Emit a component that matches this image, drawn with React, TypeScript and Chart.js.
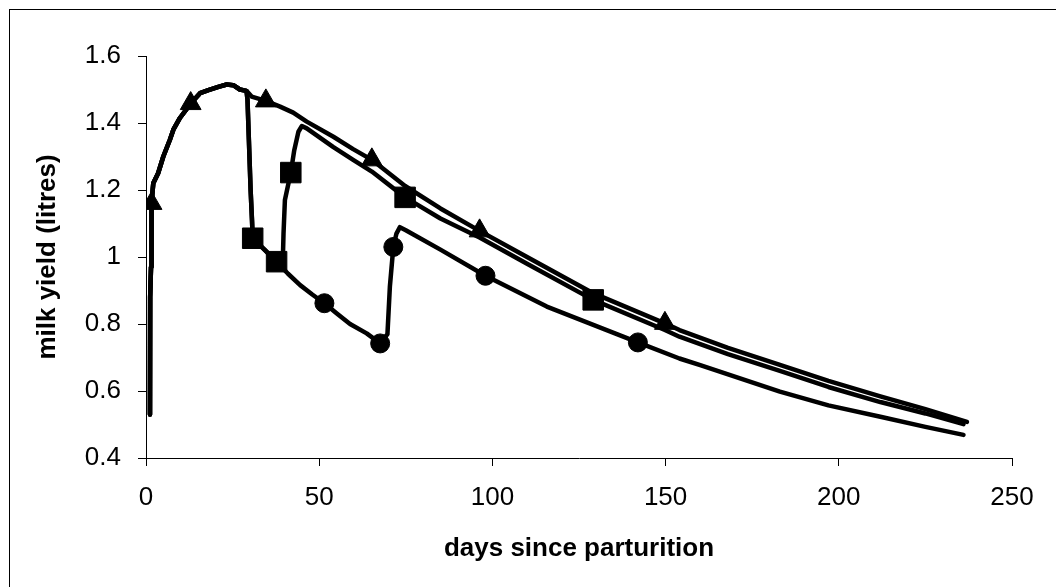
import React, { useEffect, useRef } from 'react';
import { Chart, registerables } from 'chart.js';

Chart.register(...registerables);

const FONT = 'Liberation Sans, Arial, Helvetica, sans-serif';

const xTickValues = [0, 50, 100, 150, 200, 250];
const yTickValues = [0.4, 0.6, 0.8, 1.0, 1.2, 1.4, 1.6];
const yTickLabels = ['0.4', '0.6', '0.8', '1', '1.2', '1.4', '1.6'];

// Control series (triangles)
const controlDays = [1.15, 1.2, 1.45, 1.6, 2.1, 3.5, 5.0, 6.9, 7.9, 9.8, 12.9, 15.6, 18.0, 20.9, 23.3, 25.2, 27.1, 29.0, 30.5, 34.6, 38.7, 42.5, 46.4, 54.1, 59.8, 65.2, 74.8, 85.0, 96.3, 110.0, 129.1, 149.8, 154.0, 168.0, 183.0, 197.0, 212.0, 225.0, 237.0];
const controlYield = [0.53, 0.88, 0.97, 1.16, 1.22, 1.25, 1.30, 1.35, 1.38, 1.415, 1.458, 1.489, 1.498, 1.508, 1.515, 1.513, 1.50, 1.496, 1.479, 1.466, 1.449, 1.431, 1.404, 1.359, 1.322, 1.29, 1.212, 1.145, 1.078, 1.0, 0.892, 0.802, 0.782, 0.729, 0.678, 0.63, 0.584, 0.546, 0.508];
const controlMarkerDays = [1.6, 12.9, 34.6, 65.2, 96.3, 149.8];

// Square series
const squareDays = [1.15, 1.2, 1.45, 1.6, 2.1, 3.5, 5.0, 6.9, 7.9, 9.8, 12.9, 15.6, 18.0, 20.9, 23.3, 25.2, 27.1, 29.0, 29.3, 29.7, 30.2, 30.6, 30.8, 33.9, 37.7, 39.5, 39.7, 40.1, 41.8, 42.8, 44.0, 45.0, 46.4, 54.1, 59.8, 65.2, 74.8, 85.0, 96.3, 110.0, 129.1, 149.8, 154.0, 168.0, 183.0, 197.0, 212.0, 225.0, 236.0];
const squareYield = [0.53, 0.88, 0.97, 1.16, 1.22, 1.25, 1.30, 1.35, 1.38, 1.415, 1.458, 1.489, 1.498, 1.508, 1.515, 1.513, 1.50, 1.496, 1.47, 1.35, 1.2, 1.11, 1.056, 1.025, 0.986, 0.99, 1.07, 1.17, 1.252, 1.319, 1.374, 1.391, 1.384, 1.328, 1.29, 1.255, 1.178, 1.115, 1.058, 0.98, 0.872, 0.782, 0.762, 0.71, 0.66, 0.612, 0.567, 0.533, 0.501];
const squareMarkerDays = [30.8, 37.7, 41.8, 74.8, 129.1];

// Circle series
const circleDays = [1.15, 1.2, 1.45, 1.6, 2.1, 3.5, 5.0, 6.9, 7.9, 9.8, 12.9, 15.6, 18.0, 20.9, 23.3, 25.2, 27.1, 29.0, 29.3, 29.7, 30.2, 30.6, 30.8, 33.9, 37.7, 41.0, 44.5, 48.0, 51.5, 55.0, 58.9, 63.7, 67.6, 69.7, 70.4, 71.4, 72.3, 73.3, 75.0, 85.0, 98.0, 115.7, 142.0, 154.0, 160.0, 183.0, 197.0, 212.0, 225.0, 236.0];
const circleYield = [0.53, 0.88, 0.97, 1.16, 1.22, 1.25, 1.30, 1.35, 1.38, 1.415, 1.458, 1.489, 1.498, 1.508, 1.515, 1.513, 1.50, 1.496, 1.47, 1.35, 1.2, 1.11, 1.056, 1.025, 0.986, 0.95, 0.916, 0.888, 0.862, 0.832, 0.80, 0.772, 0.742, 0.77, 0.911, 1.03, 1.07, 1.089, 1.08, 1.022, 0.944, 0.852, 0.745, 0.697, 0.677, 0.598, 0.557, 0.523, 0.493, 0.469];
const circleMarkerDays = [51.5, 67.6, 71.4, 98.0, 142.0];

function makeSeries(label: string, days: number[], values: number[], markerDays: number[], style: string, radius: number) {
  return {
    label,
    data: days.map((d, i) => ({ x: d, y: values[i] })),
    borderColor: '#000',
    backgroundColor: '#000',
    borderWidth: 4.5,
    borderCapStyle: 'round',
    borderJoinStyle: 'round',
    tension: 0,
    fill: false,
    pointStyle: style,
    pointRadius: days.map((d) => (markerDays.includes(d) ? radius : 0)),
    pointHoverRadius: 0,
    pointBackgroundColor: '#000',
    pointBorderColor: '#000',
    pointBorderWidth: 1,
  };
}

export default function App() {
  const ref = useRef<HTMLCanvasElement | null>(null);

  useEffect(() => {
    if (!ref.current) return;
    const chart = new Chart(ref.current, {
      type: 'line',
      data: {
        datasets: [
          makeSeries('control', controlDays, controlYield, controlMarkerDays, 'triangle', 12),
          makeSeries('square', squareDays, squareYield, squareMarkerDays, 'rect', 14.5),
          makeSeries('circle', circleDays, circleYield, circleMarkerDays, 'circle', 9.5),
        ] as any,
      },
      options: {
        animation: false,
        responsive: false,
        devicePixelRatio: 1,
        layout: { padding: { top: 56, right: 44, left: 0, bottom: 0 } },
        plugins: { legend: { display: false }, tooltip: { enabled: false } },
        events: [],
        scales: {
          x: {
            type: 'linear',
            min: 0,
            max: 250,
            afterBuildTicks: (s: any) => {
              s.ticks = xTickValues.map((v) => ({ value: v }));
            },
            afterFit: (s: any) => {
              s.height = 129;
            },
            ticks: {
              font: { family: FONT, size: 26 },
              color: '#000',
              padding: 16,
              maxRotation: 0,
              autoSkip: false,
              callback: (v: any) => String(v),
            },
            grid: { display: true, drawOnChartArea: false, drawTicks: true, tickLength: 8, color: '#000', lineWidth: 1 },
            border: { display: true, color: '#000', width: 1 },
            title: {
              display: true,
              text: 'days since parturition',
              color: '#000',
              font: { family: FONT, size: 26, weight: 'bold' },
              padding: { top: 0, bottom: 23 },
            },
          },
          y: {
            type: 'linear',
            min: 0.4,
            max: 1.6,
            afterBuildTicks: (s: any) => {
              s.ticks = yTickValues.map((v) => ({ value: v }));
            },
            afterFit: (s: any) => {
              s.width = 146;
            },
            ticks: {
              font: { family: FONT, size: 26 },
              color: '#000',
              padding: 17,
              autoSkip: false,
              callback: (_v: any, i: number) => yTickLabels[i],
            },
            grid: { display: true, drawOnChartArea: false, drawTicks: true, tickLength: 8, color: '#000', lineWidth: 1 },
            border: { display: true, color: '#000', width: 1 },
            title: {
              display: true,
              text: 'milk yield (litres)',
              color: '#000',
              font: { family: FONT, size: 26, weight: 'bold' },
              padding: { top: 32, bottom: 0 },
            },
          },
        },
      } as any,
    });
    return () => chart.destroy();
  }, []);

  return (
    <div style={{ position: 'absolute', left: 0, top: 0, width: 1056, height: 587, overflow: 'hidden', background: '#fff' }}>
      <div style={{ position: 'absolute', left: 9, top: 9, width: 3000, height: 3000, borderLeft: '1px solid #000', borderTop: '1px solid #000' }} />
      <canvas ref={ref} width={1056} height={587} style={{ position: 'absolute', left: 0, top: 0, display: 'block' }} />
    </div>
  );
}
